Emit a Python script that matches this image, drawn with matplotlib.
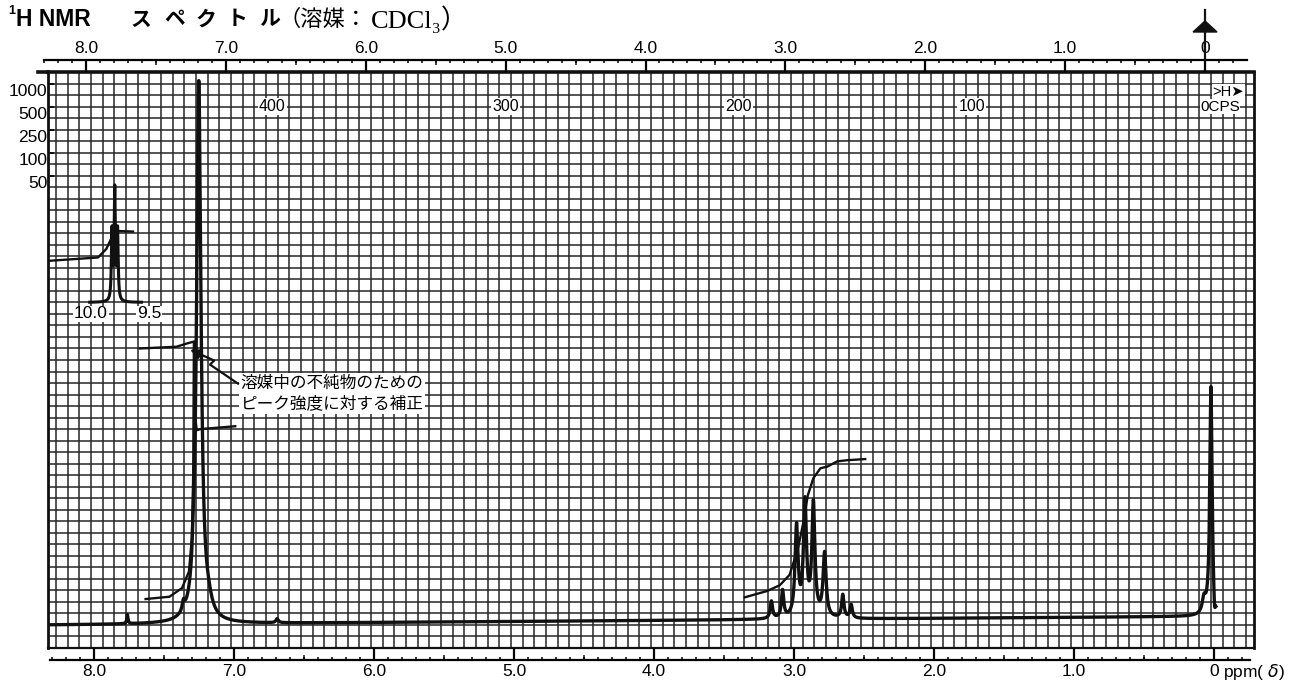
import numpy as np
import matplotlib
matplotlib.use('Agg')
import matplotlib.pyplot as plt
from matplotlib import transforms
from matplotlib.lines import Line2D
from matplotlib.patches import Polygon

# ---- spectrum data (60 MHz, CDCl3) ----
# main sweep: shift [ppm], height [chart divisions], half width [ppm]
peak_shift = [7.74, 7.34, 7.27, 7.23, 7.16, 6.67,
              3.14, 3.06, 2.96, 2.90, 2.84, 2.76, 2.63, 2.57,
              0.05, 0.00, -0.025]
peak_height = [1.6, 1.6, 3.0, 94.0, 1.5, 0.7,
               3.0, 4.7, 15.6, 19.6, 19.4, 11.0, 4.0, 2.3,
               2.5, 40.0, -3.5]
peak_width = [0.005, 0.010, 0.006, 0.019, 0.030, 0.010,
              0.010, 0.010, 0.013, 0.013, 0.013, 0.013, 0.010, 0.010,
              0.015, 0.010, 0.008]
baseline_at_8ppm = 4.0
baseline_at_0ppm = 5.5
sweep_end = -0.035

# aldehyde proton, recorded with a 2.0 ppm offset and raised pen
cho_shift = [9.85, 9.83, 9.81]
cho_height = [12.0, 19.0, 12.0]
cho_width = [0.005, 0.005, 0.005]
cho_offset = 2.0
cho_level = 60.0
cho_sweep = (9.64, 10.01)
cho_marks = ['10.0', '9.5']
cho_mark_ppm = [10.0, 9.5]

# integrator traces: (ppm, level)
int_arom_ppm = [7.61, 7.44, 7.35, 7.30, 7.28, 7.27, 7.265]
int_arom_lvl = [8.5, 8.9, 10.4, 13.3, 19.1, 30.0, 53.0]
int_top_ppm = [7.65, 7.39, 7.31, 7.265]
int_top_lvl = [52.0, 52.3, 52.9, 53.2]
int_corr_ppm = [7.25, 7.245, 7.22, 6.97]
int_corr_lvl = [39.0, 37.8, 38.0, 38.5]
int_ch2_ppm = [3.33, 3.17, 3.08, 3.01, 2.95, 2.91, 2.88, 2.84, 2.79, 2.74, 2.67, 2.60, 2.47]
int_ch2_lvl = [8.8, 9.9, 10.9, 12.7, 17.3, 22.0, 26.5, 29.5, 31.2, 31.5, 32.4, 32.6, 32.8]
int_cho_ppm = [10.31, 9.95, 9.89, 9.84, 9.81, 9.70]
int_cho_lvl = [67.2, 67.8, 69.3, 71.9, 72.4, 72.3]

# scales
ppm_labels = ['8.0', '7.0', '6.0', '5.0', '4.0', '3.0', '2.0', '1.0', '0']
ppm_ticks = [8, 7, 6, 5, 4, 3, 2, 1, 0]
cps_labels = ['400', '300', '200', '100']
cps_values = [400, 300, 200, 100]
spectrometer_mhz = 60.0
atten_labels = ['1000', '500', '250', '100', '50']
atten_rows = [98, 94, 90, 86, 82]

note_text = '溶媒中の不純物のための\nピーク強度に対する補正'
arrow_ppm = [6.95, 7.15, 7.12, 7.22]
arrow_lvl = [45.9, 49.2, 49.9, 51.0]
arrow_tip = (7.31, 52.0)

# ---- layout (pixels) ----
W, H, DPI = 1289, 682, 100
GRID_L, GRID_R, GRID_T, GRID_B = 48, 1254, 72, 648
PX_PER_PPM = 140.0
ZERO_MAIN, ZERO_TOP, ZERO_BOT = 1211, 1205, 1214
INK = '#111111'
GRID_INK = '#262626'
LABEL_FONT = 'Liberation Sans'


def fig_box(x0, y0, x1, y1):
    return [x0 / W, 1 - y1 / H, (x1 - x0) / W, (y1 - y0) / H]


def lorentz(x, centres, heights, widths):
    out = np.zeros_like(x)
    for c, h, w in zip(centres, heights, widths):
        out += h / (1.0 + ((x - c) / w) ** 2)
    return out


fig = plt.figure(figsize=(W / DPI, H / DPI), dpi=DPI)
fig.patch.set_facecolor('white')

# chart paper
ax = fig.add_axes(fig_box(GRID_L, GRID_T, GRID_R, GRID_B))
x_left = (ZERO_MAIN - GRID_L) / PX_PER_PPM
x_right = (ZERO_MAIN - GRID_R) / PX_PER_PPM
ax.set_xlim(x_left, x_right)
ax.set_ylim(0, 100)
ax.vlines(np.arange(-4, 101) / 12.0, 0, 100, color=GRID_INK, lw=1.1, zorder=1)
ax.hlines(np.arange(0, 101, 2), x_left, x_right, color=GRID_INK, lw=1.1, zorder=1)
for side, lw in [('left', 2.0), ('right', 2.0), ('top', 2.6), ('bottom', 1.6)]:
    ax.spines[side].set_linewidth(lw)
    ax.spines[side].set_color(INK)
ax.set_xticks([])
ax.set_yticks(atten_rows)
ax.set_yticklabels(atten_labels, fontsize=12.5, family=LABEL_FONT)
ax.tick_params(axis='y', direction='in', length=4, width=1.2, pad=0.5)
for lab in ax.get_yticklabels():
    lab.set_verticalalignment('top')

# top edge of the paper runs a little past the left border
fig.add_artist(Line2D([38 / W, GRID_L / W], [1 - GRID_T / H] * 2, color=INK, lw=2.6))

# main trace
ppm = np.arange(sweep_end, 8.36, 0.0005)
base = np.interp(ppm, [0.0, 8.3], [baseline_at_0ppm, baseline_at_8ppm])
trace = base + lorentz(ppm, peak_shift, peak_height, peak_width)
ax.plot(ppm, trace, color=INK, lw=2.4, zorder=4, solid_joinstyle='round')

# offset aldehyde sweep
cho_ppm = np.arange(cho_sweep[0], cho_sweep[1], 0.0005)
cho_trace = cho_level + lorentz(cho_ppm, cho_shift, cho_height, cho_width)
ax.plot(cho_ppm - cho_offset, cho_trace, color=INK, lw=2.2, zorder=4)
ax.text(cho_mark_ppm[0] - cho_offset, 58.0, cho_marks[0], ha='center', va='center',
        fontsize=12.5, family=LABEL_FONT, zorder=5,
        bbox=dict(facecolor='white', edgecolor='none', pad=0.6))
ax.text(cho_mark_ppm[1] - cho_offset, 58.0, cho_marks[1], ha='right', va='center',
        fontsize=12.5, family=LABEL_FONT, zorder=5,
        bbox=dict(facecolor='white', edgecolor='none', pad=0.6))

# integrals
for xs, ys, off in [(int_arom_ppm, int_arom_lvl, 0), (int_top_ppm, int_top_lvl, 0),
                    (int_corr_ppm, int_corr_lvl, 0), (int_ch2_ppm, int_ch2_lvl, 0),
                    (int_cho_ppm, int_cho_lvl, cho_offset)]:
    ax.plot(np.array(xs) - off, ys, color=INK, lw=1.7, zorder=4)

# note on the solvent correction
ax.text(6.93, 44.2, note_text, ha='left', va='center', fontsize=12,
        family=['Noto Sans CJK JP'], linespacing=1.25, zorder=6,
        bbox=dict(facecolor='white', edgecolor='none', pad=1.2))
ax.plot(arrow_ppm, arrow_lvl, color=INK, lw=1.6, zorder=6)
ax.annotate('', xy=arrow_tip, xytext=(arrow_ppm[-1], arrow_lvl[-1]), zorder=6,
            arrowprops=dict(arrowstyle='-|>', color=INK, lw=1.6, mutation_scale=15))

# top ppm scale
ax_top = fig.add_axes(fig_box(44, 60, 1247, GRID_T))
ax_top.set_xlim((ZERO_TOP - 44) / PX_PER_PPM, (ZERO_TOP - 1247) / PX_PER_PPM)
ax_top.set_ylim(0, 1)
ax_top.patch.set_alpha(0)
for side in ['left', 'right', 'bottom']:
    ax_top.spines[side].set_visible(False)
ax_top.spines['top'].set_linewidth(1.6)
ax_top.set_yticks([])
ax_top.xaxis.tick_top()
ax_top.set_xticks(ppm_ticks)
ax_top.set_xticklabels(ppm_labels, fontsize=12.5, family=LABEL_FONT)
ax_top.set_xticks(np.arange(-2, 84) / 10.0, minor=True)
ax_top.tick_params(axis='x', which='major', direction='in', length=8.6, width=1.6, pad=3)
ax_top.tick_params(axis='x', which='minor', direction='in', length=2.2, width=1.1)
ax_top.vlines(np.arange(0.5, 8.5, 1.0), 0.6, 1.0, color=INK, lw=1.1,
              transform=transforms.blended_transform_factory(ax_top.transData, ax_top.transAxes))

# bottom ppm scale
ax_bot = fig.add_axes(fig_box(50, GRID_B, 1250, 660))
ax_bot.set_xlim((ZERO_BOT - 50) / PX_PER_PPM, (ZERO_BOT - 1250) / PX_PER_PPM)
ax_bot.set_ylim(0, 1)
ax_bot.patch.set_alpha(0)
for side in ['left', 'right', 'top']:
    ax_bot.spines[side].set_visible(False)
ax_bot.spines['bottom'].set_linewidth(1.6)
ax_bot.set_yticks([])
ax_bot.set_xticks(ppm_ticks)
ax_bot.set_xticklabels(ppm_labels, fontsize=12.5, family=LABEL_FONT)
ax_bot.set_xticks(np.arange(-2, 84) / 10.0, minor=True)
ax_bot.tick_params(axis='x', which='major', direction='in', length=8.6, width=1.6, pad=3)
ax_bot.tick_params(axis='x', which='minor', direction='in', length=2.2, width=1.1)
ax_bot.vlines(np.arange(0.5, 8.5, 1.0), 0.0, 0.45, color=INK, lw=1.1,
              transform=transforms.blended_transform_factory(ax_bot.transData, ax_bot.transAxes))
ax_bot.text(-0.065, -0.2, 'ppm( $\\delta$)', ha='left', va='top', fontsize=12.5, family=LABEL_FONT,
            transform=transforms.blended_transform_factory(ax_bot.transData, ax_bot.transAxes))

# cps scale printed on the paper, 0 cps marker
cps_tr = transforms.blended_transform_factory(ax_top.transData, ax.transData)
for lab, cps in zip(cps_labels, cps_values):
    ax.text(cps / spectrometer_mhz, 94.0, lab, ha='center', va='center', fontsize=11.5,
            family=LABEL_FONT, transform=cps_tr, zorder=5,
            bbox=dict(facecolor='white', edgecolor='none', pad=0.8))
ax.text(0.035, 94.0, '0CPS', ha='left', va='center', fontsize=11, family=LABEL_FONT,
        transform=cps_tr, zorder=5, bbox=dict(facecolor='white', edgecolor='none', pad=0.3))
ax.text(-0.055, 96.6, '>H➤', ha='left', va='center', fontsize=10.5,
        family=[LABEL_FONT, 'DejaVu Sans'], transform=cps_tr, zorder=5,
        bbox=dict(facecolor='white', edgecolor='none', pad=0.3))

# reference arrow above 0 ppm
mark_tr = transforms.blended_transform_factory(ax_top.transData, fig.transFigure)
fig.add_artist(Line2D([0, 0], [1 - 10 / H, 1 - 60 / H], color=INK, lw=1.6, transform=mark_tr))
fig.add_artist(Polygon([[-12 / PX_PER_PPM, 1 - 32 / H], [12 / PX_PER_PPM, 1 - 32 / H],
                        [0, 1 - 21 / H]], closed=True, color=INK, transform=mark_tr))
for lab in ax_top.get_xticklabels():
    lab.set_bbox(dict(facecolor='white', edgecolor='none', pad=0.5))

# heading
fig.text(8 / W, 1 - 11 / H, '1', fontsize=9, fontweight='bold', family=LABEL_FONT,
         ha='left', va='center')
fig.text(16 / W, 1 - 19 / H, 'H NMR', fontsize=16.5, fontweight='bold', family=LABEL_FONT,
         ha='left', va='center')
for ch, xc in zip('スペクトル', [141, 175, 206, 237, 270]):
    fig.text(xc / W, 1 - 19 / H, ch, fontsize=15, fontweight='bold',
             family=['Noto Sans CJK JP'], ha='center', va='center')
fig.text(278 / W, 1 - 19 / H, '（溶媒：', fontsize=16, family=['Noto Sans CJK JP'],
         ha='left', va='center')
fig.text(371 / W, 1 - 19 / H, 'CDCl₃）', fontsize=19,
         family=['Liberation Serif', 'DejaVu Serif', 'Noto Sans CJK JP'], ha='left', va='center')

fig.savefig('out.png', dpi=DPI, facecolor='white')
